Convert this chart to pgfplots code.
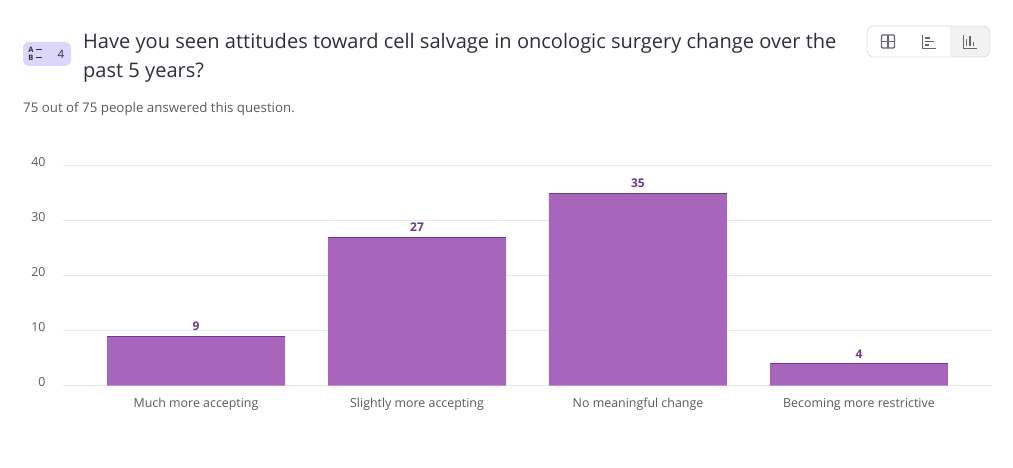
\documentclass[border=0pt]{standalone}
\usepackage{pgfplots}
\pgfplotsset{compat=1.18}
\usepackage{fontspec}
\setmainfont{Open Sans}
\definecolor{barfill}{HTML}{A765BC}
\definecolor{baredge}{HTML}{6A3A8A}
\definecolor{gridc}{HTML}{E8E8E8}
\definecolor{ticktxt}{HTML}{5A5A5A}
\definecolor{titletxt}{HTML}{2F2F3A}
\definecolor{icon}{HTML}{6B6570}
\pgfplotstableread{
x y
0 9
1 27
2 35
3 4
}\answers
\begin{document}
\begin{tikzpicture}[x=1pt,y=1pt]
\path[use as bounding box,fill=white] (0,0) rectangle (1013,467);
% badge
\fill[fill={rgb,255:red,221;green,214;blue,251}] (23,467-66) [rounded corners=6pt] rectangle (71,467-42);
\node[font=\fontsize{7.5}{8}\selectfont\bfseries,text=titletxt,inner sep=0pt] at (31,467-50) {A};
\node[font=\fontsize{7.5}{8}\selectfont\bfseries,text=titletxt,inner sep=0pt] at (31,467-58) {B};
\draw[titletxt,line width=1pt] (35.5,467-50) -- (42,467-50) (35.5,467-58) -- (42,467-58);
\node[font=\fontsize{11.5}{13}\selectfont,text=titletxt,inner sep=0pt] at (61,467-54) {4};
% title
\node[anchor=base west,inner sep=0pt,font=\fontsize{20.05}{24}\selectfont,text=titletxt] at (83,467-49) {Have you seen attitudes toward cell salvage in oncologic surgery change over the};
\node[anchor=base west,inner sep=0pt,font=\fontsize{20.05}{24}\selectfont,text=titletxt] at (83,467-77.5) {past 5 years?};
\node[anchor=base west,inner sep=0pt,font=\fontsize{13.3}{15}\selectfont,text=ticktxt] at (23,467-112.5) {75 out of 75 people answered this question.};
% button group
\begin{scope}
\clip[rounded corners=7pt] (867,467-57) rectangle (990,467-26);
\fill[black!5] (950,467-57) rectangle (990,467-26);
\end{scope}
\draw[black!12,rounded corners=7pt,line width=0.8pt] (867,467-57) rectangle (990,467-26);
% table icon
\draw[icon,line width=1.3pt,rounded corners=1pt] (881.5,467-48) rectangle (894.5,467-35);
\draw[icon,line width=1.3pt] (888,467-48) -- (888,467-35) (881.5,467-41.5) -- (894.5,467-41.5);
% horizontal bars icon
\draw[icon,line width=1.1pt] (922.5,467-35) -- (922.5,467-48.5) -- (936,467-48.5);
\draw[icon,line width=1.1pt] (925,467-38) -- (930,467-38) (925,467-41.5) -- (934,467-41.5) (925,467-45) -- (929,467-45);
% vertical bars icon
\draw[icon,line width=1.1pt] (963.5,467-35) -- (963.5,467-48.5) -- (977,467-48.5);
\draw[icon,line width=1.3pt] (966.5,467-46) -- (966.5,467-39) (970,467-46) -- (970,467-36.5) (973.5,467-46) -- (973.5,467-42);
\begin{axis}[
  at={(63pt,81.5pt)},anchor=south west,
  scale only axis,width=929pt,height=220pt,
  xmin=-0.602,xmax=3.602,ymin=0,ymax=40,
  axis line style={draw=none},
  major tick length=0pt,
  xtick={0,1,2,3},
  xticklabels={Much more accepting,Slightly more accepting,No meaningful change,Becoming more restrictive},
  ytick={0,10,20,30,40},
  ymajorgrids,
  grid style={gridc,line width=0.8pt},
  /pgf/number format/assume math mode=true,
  tick label style={font=\fontsize{12.4}{14}\selectfont,text=ticktxt},
  yticklabel style={anchor=east,xshift=-14pt,yshift=3pt},
  xticklabel style={anchor=base,yshift=-22pt},
  clip=false,
]
\addplot[ybar,bar width=178pt,fill=barfill,draw=none,bar shift=0pt,
  nodes near coords,
  every node near coord/.append style={font=\fontsize{12}{14}\selectfont\bfseries,text=baredge,anchor=base,yshift=5.5pt}]
  table[x=x,y=y]{\answers};
\addplot[only marks,mark=-,mark size=89pt,mark options={draw=baredge,line width=0.9pt}]
  table[x=x,y=y]{\answers};
\end{axis}
\end{tikzpicture}
\end{document}
